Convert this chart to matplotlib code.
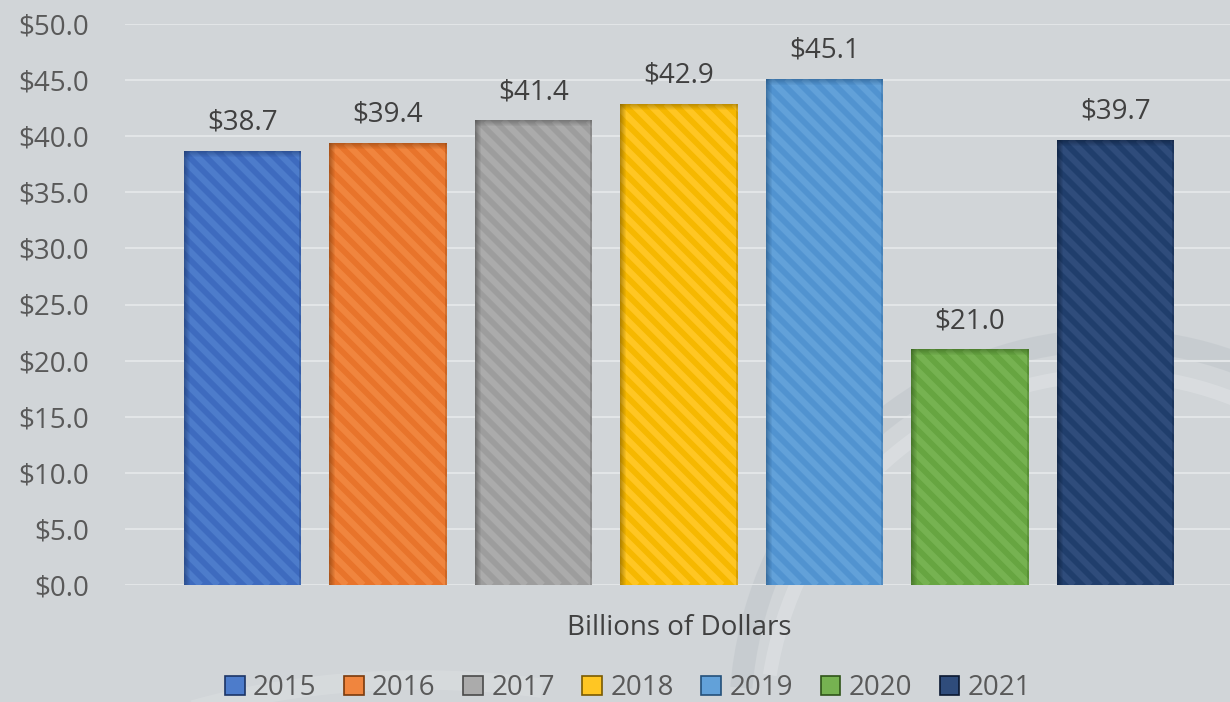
import matplotlib.pyplot as plt
from matplotlib.patches import Patch, Arc, Rectangle
from matplotlib.transforms import IdentityTransform

# data
years = ['2015', '2016', '2017', '2018', '2019', '2020', '2021']
values = [38.7, 39.4, 41.4, 42.9, 45.1, 21.0, 39.7]
base_colors = ['#3e6bbf', '#e8742b', '#9d9d9d', '#f6b800', '#5193d0', '#67a541', '#203e6c']
stripe_colors = ['#4d7ccb', '#f0853e', '#ababab', '#ffc623', '#62a1d9', '#76b251', '#2f4c7b']
shade_colors = ['#1c3566', '#7a3a0c', '#4a4a4a', '#7a5a00', '#24507a', '#2f5419', '#0a1830']
yticks = [0, 5, 10, 15, 20, 25, 30, 35, 40, 45, 50]

plt.rcParams['font.family'] = ['Open Sans', 'DejaVu Sans']

bg = '#d1d5d8'
W, H = 1230, 702
fig = plt.figure(figsize=(12.3, 7.02), dpi=100, facecolor=bg)
ax = fig.add_axes([125 / W, 1 - 585 / H, 1 - 125 / W, (585 - 24) / H])
ax.set_facecolor('none')

# faint watermark arcs behind the chart
wm = fig.add_axes([0, 0, 1, 1], zorder=-1)
wm.set_xlim(0, W)
wm.set_ylim(H, 0)
wm.axis('off')
wm.add_patch(Arc((1110, 720), 740, 760, theta1=185, theta2=330, color='#bcc3c8', lw=16, alpha=0.45))
wm.add_patch(Arc((1110, 735), 690, 720, theta1=190, theta2=330, color='#e3e6e8', lw=10, alpha=0.45))
wm.add_patch(Arc((420, 900), 900, 440, theta1=220, theta2=300, color='#dfe2e4', lw=14, alpha=0.4))

ax.set_xlim(-0.808, 6.787)
ax.set_ylim(0, 50)

x = list(range(len(years)))
bw = 0.81
period = 17.0   # stripe spacing in pixels
for i in x:
    bar = ax.bar(i, values[i], width=bw, color=base_colors[i], linewidth=0, zorder=3)[0]
    # bar corners in pixels
    (px0, py0) = ax.transData.transform((i - bw / 2, 0))
    (px1, py1) = ax.transData.transform((i + bw / 2, values[i]))
    h = py1 - py0
    u = px0 - h - period
    while u < px1 + period:
        ln, = ax.plot([u, u + h], [py1, py0], transform=IdentityTransform(),
                      color=stripe_colors[i], lw=4.5, solid_capstyle='butt', zorder=3.5)
        ln.set_clip_path(bar)
        u += period
    # inner shadow on the left and top edges
    for k in range(6):
        a = 0.55 * (1 - k / 6)
        ax.add_patch(Rectangle((px0 + k, py0), 1, h, transform=IdentityTransform(),
                               facecolor=shade_colors[i], alpha=a, lw=0, zorder=3.7))
        ax.add_patch(Rectangle((px0, py1 - k - 1), px1 - px0, 1, transform=IdentityTransform(),
                               facecolor=shade_colors[i], alpha=a * 0.8, lw=0, zorder=3.7))
    ax.add_patch(Rectangle((px1 - 2, py0), 2, h, transform=IdentityTransform(),
                           facecolor=shade_colors[i], alpha=0.25, lw=0, zorder=3.7))
    ax.text(i, values[i] + 1.25, '$%.1f' % values[i], ha='center', va='bottom',
            fontsize=20, color='#404040', zorder=5)

ax.set_yticks(yticks)
ax.set_yticklabels(['$%.1f' % v for v in yticks], fontsize=20, color='#595959')
ax.tick_params(axis='y', length=0, pad=26)
ax.tick_params(axis='x', length=0, labelbottom=False)
ax.yaxis.grid(True, color='#e2e5e7', linewidth=1.5, zorder=0)
ax.set_axisbelow(True)
for s in ax.spines.values():
    s.set_visible(False)

fig.text(679 / W, 1 - 628 / H, 'Billions of Dollars', ha='center', va='center',
         fontsize=20, color='#404040')

handles = [Patch(facecolor=stripe_colors[i], edgecolor=shade_colors[i], linewidth=1.2)
           for i in x]
fig.legend(handles, years, loc='center', bbox_to_anchor=(628 / W, 1 - 688 / H),
           ncol=7, frameon=False, fontsize=20, labelcolor='#595959',
           handlelength=0.7, handleheight=0.7, handletextpad=0.3, columnspacing=1.0)

fig.savefig('out.png', dpi=100, facecolor=bg)
